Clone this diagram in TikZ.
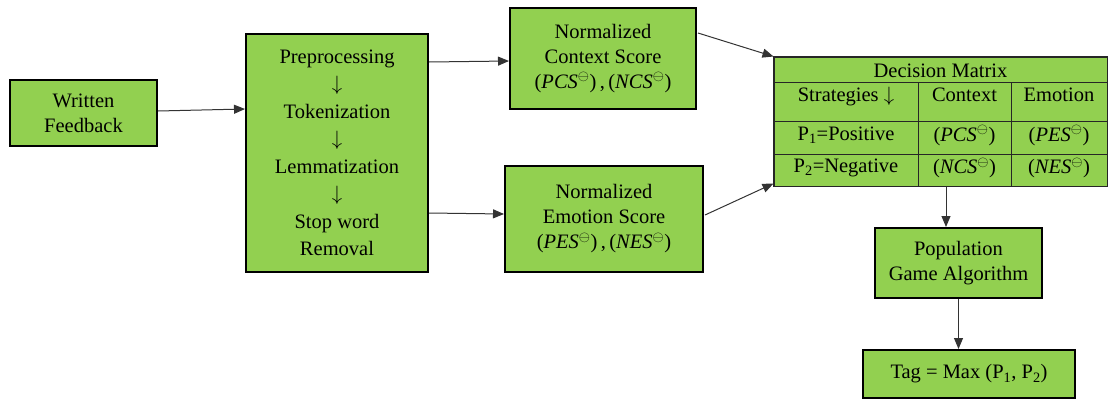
\documentclass[tikz,border=0pt]{standalone}
\usepackage{fontspec}
\setmainfont{Liberation Serif}
\usetikzlibrary{arrows.meta,calc}
\definecolor{boxgreen}{HTML}{92D050}
\newcommand{\circsup}{$^{\ominus}$}
\begin{document}
\begin{tikzpicture}[x=1pt,y=-1pt,
  txt/.style={font=\fontsize{20.5}{25}\selectfont, inner sep=0pt, align=center},
  box/.style={txt, draw=black, line width=2pt, fill=boxgreen},
  cell/.style={draw=black!85, line width=1pt, fill=boxgreen, inner sep=0pt},
  flow/.style={-{Triangle[length=11pt,width=9pt]}, line width=1pt, draw=black!80}]
\useasboundingbox (0,0) rectangle (1110,399);

% processing chain
\node[box, minimum width=147pt, minimum height=66pt] (wf) at (83.5,113) {Written\\Feedback};
\node[box, minimum width=182pt, minimum height=238pt, font=\fontsize{20.5}{27.5}\selectfont] (pre) at (337,153)
  {Preprocessing\\$\downarrow$\\Tokenization\\$\downarrow$\\Lemmatization\\$\downarrow$\\Stop word\\Removal};
\node[box, minimum width=186pt, minimum height=101pt] (ctx) at (603,58.5)
  {Normalized\\Context Score\\(\textit{PCS}\circsup)\,,\,(\textit{NCS}\circsup)};
\node[box, minimum width=198pt, minimum height=106pt] (emo) at (604,219)
  {Normalized\\Emotion Score\\(\textit{PES}\circsup)\,,\,(\textit{NES}\circsup)};

% decision matrix cells
\node[cell, minimum width=333pt, minimum height=25pt] (dt) at (940.5,69.5) {};
\node[cell, minimum width=144pt, minimum height=39pt] (ha) at (846,101.5) {};
\node[cell, minimum width=93pt, minimum height=39pt] (hb) at (964.5,101.5) {};
\node[cell, minimum width=96pt, minimum height=39pt] (hc) at (1059,101.5) {};
\node[cell, minimum width=144pt, minimum height=33pt] (ra) at (846,137.5) {};
\node[cell, minimum width=93pt, minimum height=33pt] (rb) at (964.5,137.5) {};
\node[cell, minimum width=96pt, minimum height=33pt] (rc) at (1059,137.5) {};
\node[cell, minimum width=144pt, minimum height=32pt] (sa) at (846,170) {};
\node[cell, minimum width=93pt, minimum height=32pt] (sb) at (964.5,170) {};
\node[cell, minimum width=96pt, minimum height=32pt] (sc) at (1059,170) {};
\draw[line width=1.6pt, draw=black!85] (dt.north west) rectangle (sc.south east);

% decision matrix texts
\node[txt] (tdt) at ([yshift=-1pt]dt.center) {Decision Matrix};
\node[txt] (tha) at ([yshift=5pt]ha.center) {Strategies $\downarrow$};
\node[txt] (thb) at ([yshift=7pt]hb.center) {Context};
\node[txt] (thc) at ([yshift=7pt]hc.center) {Emotion};
\node[txt] (tra) at ([yshift=2pt]ra.center) {P\textsubscript{1}=Positive};
\node[txt] (trb) at ([yshift=2pt]rb.center) {(\textit{PCS}\circsup)};
\node[txt] (trc) at ([yshift=2pt]rc.center) {(\textit{PES}\circsup)};
\node[txt] (tsa) at ([yshift=2pt]sa.center) {P\textsubscript{2}=Negative};
\node[txt] (tsb) at ([yshift=2pt]sb.center) {(\textit{NCS}\circsup)};
\node[txt] (tsc) at ([yshift=2pt]sc.center) {(\textit{NES}\circsup)};

% game stage
\node[box, minimum width=167pt, minimum height=70pt] (pop) at (958.5,263) {Population\\Game Algorithm};
\node[box, minimum width=212pt, minimum height=48pt] (tag) at (969,374) {Tag = Max (P\textsubscript{1}, P\textsubscript{2})};

% connectors
\draw[flow] ([yshift=2pt]wf.east) -- ([yshift=44pt]pre.west);
\draw[flow] ($(pre.north east)+(0,29)$) -- ($(ctx.north west)+(0,54)$);
\draw[flow] ($(pre.north east)+(0,180)$) -- ($(emo.north west)+(0,49)$);
\draw[flow] ($(ctx.north east)+(1,26)$) -- (dt.north west);
\draw[flow] ($(emo.north east)+(1,50)$) -- ($(sa.south west)+(0,-3)$);
\coordinate (pin) at ($(pop.north)+(-12.5,0)$);
\draw[flow] (pin |- sa.south) -- (pin);
\draw[flow] (pop.south) -- (pop.south |- tag.north);
\end{tikzpicture}
\end{document}
